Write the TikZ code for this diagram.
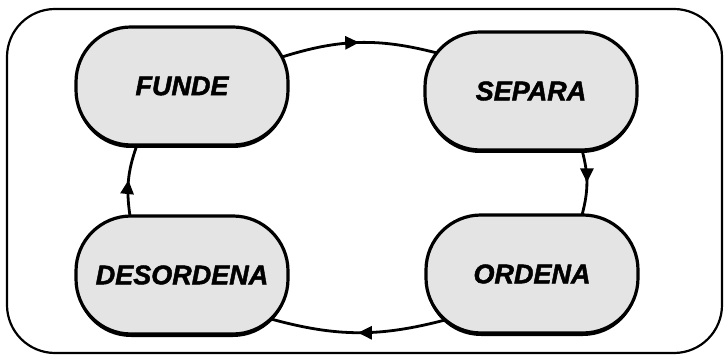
\documentclass[tikz,border=0pt]{standalone}
\usepackage{fontspec}
\setmainfont{Liberation Sans}
\newfontfamily\etfont{Liberation Sans}[BoldItalicFeatures={FakeBold=1.6}]
\usepackage{tikz}
\usetikzlibrary{calc,arrows.meta,shadows,decorations.markings}
\definecolor{etfill}{HTML}{E4E4E4}
\tikzset{
  etapa/.style={draw=black,line width=3.2pt,rounded corners=55pt,fill=etfill,
    minimum width=212pt,minimum height=118pt,inner sep=0pt,
    font=\etfont\fontsize{27}{30}\selectfont\bfseries\itshape,
    drop shadow={shadow xshift=0pt,shadow yshift=-3pt,fill=black,opacity=1}},
  ar/.style={line width=2.8pt,postaction={decorate},
    decoration={markings,mark=at position 0.5 with {\arrow{Triangle[length=14pt,width=13pt]}}}}
}

\begin{document}
\begin{tikzpicture}[x=1pt,y=1pt]
\useasboundingbox (0,0) rectangle (725,356);
\draw[line width=2.2pt,rounded corners=48pt] (7,3) rectangle (722,347);
\node[etapa] (funde) at (182,270) {FUNDE};
\node[etapa] (separa) at (531,265) {SEPARA};
\node[etapa] (ordena) at (532,82) {ORDENA};
\node[etapa] (desordena) at (182,81) {DESORDENA};
\draw[ar] ($(funde.center)+(100,29)$) to[bend left=16] ($(separa.center)+(-94,38)$);
\draw[ar] ($(separa.center)+(51,-59)$) to[bend left=15] ($(ordena.center)+(50,59)$);
\draw[ar] ($(ordena.center)+(-87,-46)$) to[bend left=15] ($(desordena.center)+(89,-44)$);
\draw[ar] ($(desordena.center)+(-52,59)$) to[bend left=14] ($(funde.center)+(-45,-59)$);
\end{tikzpicture}
\end{document}
